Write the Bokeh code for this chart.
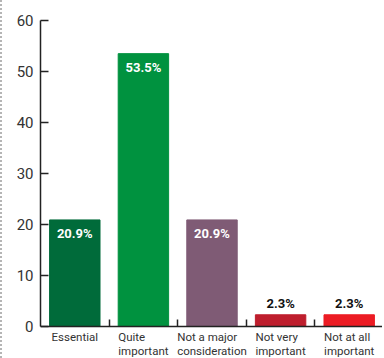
from bokeh.plotting import figure
from bokeh.models import ColumnDataSource, LabelSet, FixedTicker, Range1d
from bokeh.core.properties import value
from bokeh.embed import file_html
from bokeh.resources import INLINE

categories = ["Essential", "Quite\nimportant", "Not a major\nconsideration", "Not very\nimportant", "Not at all\nimportant"]
values = [20.9, 53.5, 20.9, 2.3, 2.3]
labels = ["20.9%", "53.5%", "20.9%", "2.3%", "2.3%"]
colors = ["#006b3a", "#00923f", "#7f5b75", "#be1e2d", "#ec1c24"]
y_ticks = [0, 10, 20, 30, 40, 50, 60]

FONT = "Roboto"
n = len(categories)
xs = [i + 0.5 for i in range(n)]

# room below zero (inside the frame) for the category labels
Y_MIN = -6.27

p = figure(width=382, height=358, output_backend="svg", toolbar_location=None,
           x_range=Range1d(0, n), y_range=Range1d(Y_MIN, 60),
           min_border_left=38, min_border_right=1, min_border_top=20, min_border_bottom=0)
p.styles = {"border-left": "2px dotted #b5b5b5"}
p.outline_line_color = None
p.grid.grid_line_color = None

src = ColumnDataSource(dict(x=xs, top=values, color=colors, label=labels))
p.vbar(x="x", top="top", width=0.735, bottom=0, color="color", source=src)

inside = [i for i in range(n) if values[i] > 10]
outside = [i for i in range(n) if values[i] <= 10]
src_in = ColumnDataSource(dict(x=[xs[i] for i in inside], y=[values[i] for i in inside],
                               t=[labels[i] for i in inside]))
src_out = ColumnDataSource(dict(x=[xs[i] for i in outside], y=[values[i] for i in outside],
                                t=[labels[i] for i in outside]))
p.add_layout(LabelSet(x="x", y="y", text="t", source=src_in, text_align="center",
                      text_baseline="top", y_offset=-6, text_color="white",
                      text_font=value(FONT), text_font_style="bold", text_font_size="13px"))
p.add_layout(LabelSet(x="x", y="y", text="t", source=src_out, text_align="center",
                      text_baseline="bottom", y_offset=4, text_color="#111111",
                      text_font=value(FONT), text_font_style="bold", text_font_size="13px"))

# category labels under the axis
src_cat = ColumnDataSource(dict(x=xs, y=[0] * n, t=categories))
p.add_layout(LabelSet(x="x", y="y", text="t", source=src_cat, text_align="center",
                      text_baseline="top", y_offset=-3, text_color="#333333",
                      text_font=value(FONT), text_font_size="11.5px", text_line_height=1.0))

# y axis
ya = p.yaxis[0]
ya.ticker = FixedTicker(ticks=y_ticks)
ya.bounds = (0, 60)
ya.major_tick_in = 8
ya.major_tick_out = 0
ya.minor_tick_line_color = None
ya.axis_line_color = "#222222"
ya.axis_line_width = 1.5
ya.major_tick_line_color = "#222222"
ya.major_tick_line_width = 1.5
ya.major_label_text_font = FONT
ya.major_label_text_font_size = "15px"
ya.major_label_text_color = "#333333"
ya.major_label_standoff = 7

# x axis, placed at y = 0
xa = p.xaxis[0]
xa.fixed_location = 0
xa.ticker = FixedTicker(ticks=[], minor_ticks=list(range(1, n + 1)))
xa.major_label_text_font_size = "0px"
xa.major_label_standoff = 0
xa.major_tick_line_color = None
xa.minor_tick_in = 7
xa.minor_tick_out = 0
xa.minor_tick_line_color = "#222222"
xa.minor_tick_line_width = 1.5
xa.axis_line_color = "#222222"
xa.axis_line_width = 1.5

open("out.html", "w").write(file_html(p, INLINE))
